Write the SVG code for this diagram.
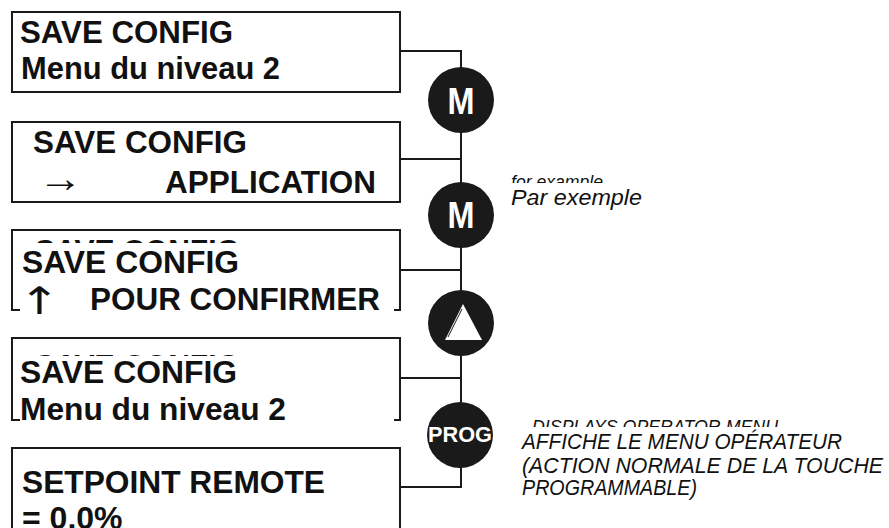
<svg xmlns="http://www.w3.org/2000/svg" width="889" height="528" viewBox="0 0 889 528">
  <style>
    .box { fill: none; stroke: #1a1a1a; stroke-width: 2; }
    .wire { fill: none; stroke: #1a1a1a; stroke-width: 2; }
    .mask { fill: #ffffff; stroke: none; }
    .lcd { font-family: "Liberation Sans", Arial, sans-serif; font-weight: bold; font-size: 32px; fill: #111; }
    .sym { font-family: "Liberation Sans", Arial, sans-serif; font-size: 32px; fill: #111; }
    .sym-up { font-family: "DejaVu Sans", sans-serif; font-size: 38px; fill: #111; }
    .key { fill: #1a1a1a; }
    .keytxt { font-family: "Liberation Sans", Arial, sans-serif; font-weight: bold; fill: #fff; text-anchor: middle; }
    .note { font-family: "Liberation Sans", Arial, sans-serif; font-style: italic; font-size: 22px; fill: #111; }
    .note-en { font-family: "Liberation Sans", Arial, sans-serif; font-style: italic; font-size: 18px; fill: #111; }
  </style>

  <!-- connectors: display boxes to key column -->
  <g id="connectors">
    <polyline class="wire" points="400,51 461,51 461,487 399,487"/>
    <line class="wire" x1="400" y1="159" x2="461" y2="159"/>
    <line class="wire" x1="400" y1="270" x2="461" y2="270"/>
    <line class="wire" x1="400" y1="378" x2="461" y2="378"/>
  </g>

  <!-- display 1 -->
  <g id="display1">
    <rect class="box" x="12" y="12" width="388" height="80"/>
    <text class="lcd" x="20" y="43" textLength="213" lengthAdjust="spacingAndGlyphs">SAVE CONFIG</text>
    <text class="lcd" x="21" y="79" textLength="259" lengthAdjust="spacingAndGlyphs">Menu du niveau 2</text>
  </g>

  <!-- display 2 -->
  <g id="display2">
    <rect class="box" x="12" y="122" width="388" height="80"/>
    <text class="lcd" x="33" y="153" textLength="214" lengthAdjust="spacingAndGlyphs">SAVE CONFIG</text>
    <text class="sym" transform="translate(38,192) scale(1.4,1.25)">→</text>
    <text class="lcd" x="165" y="193" textLength="211" lengthAdjust="spacingAndGlyphs">APPLICATION</text>
  </g>

  <!-- display 3 -->
  <g id="display3">
    <rect class="box" x="12" y="230" width="388" height="80"/>
    <text class="lcd" x="35" y="262" textLength="205" lengthAdjust="spacingAndGlyphs">SAVE CONFIG</text>
    <rect class="mask" x="20" y="243" width="374" height="72"/>
    <text class="lcd" x="22" y="273" textLength="217" lengthAdjust="spacingAndGlyphs">SAVE CONFIG</text>
    <text class="sym-up" transform="translate(19,314) scale(1.3,1)">↑</text>
    <text class="lcd" x="90" y="310" textLength="290" lengthAdjust="spacingAndGlyphs">POUR CONFIRMER</text>
  </g>

  <!-- display 4 -->
  <g id="display4">
    <rect class="box" x="12" y="338" width="388" height="82"/>
    <text class="lcd" x="35" y="377" textLength="205" lengthAdjust="spacingAndGlyphs">SAVE CONFIG</text>
    <rect class="mask" x="20" y="356" width="374" height="70"/>
    <text class="lcd" x="20" y="383" textLength="217" lengthAdjust="spacingAndGlyphs">SAVE CONFIG</text>
    <text class="lcd" x="20" y="420" textLength="266" lengthAdjust="spacingAndGlyphs">Menu du niveau 2</text>
  </g>

  <!-- display 5 -->
  <g id="display5">
    <rect class="box" x="12" y="448" width="388" height="90"/>
    <text class="lcd" x="22" y="493" textLength="303" lengthAdjust="spacingAndGlyphs">SETPOINT REMOTE</text>
    <text class="lcd" x="22" y="529">= 0.0%</text>
  </g>

  <!-- keys -->
  <g id="key-m1">
    <circle class="key" cx="461" cy="100" r="33"/>
    <text class="keytxt" x="461" y="114" font-size="37" textLength="27" lengthAdjust="spacingAndGlyphs">M</text>
  </g>
  <g id="key-m2">
    <circle class="key" cx="461" cy="215" r="33"/>
    <text class="keytxt" x="461" y="228" font-size="37" textLength="27" lengthAdjust="spacingAndGlyphs">M</text>
  </g>
  <g id="key-up">
    <circle class="key" cx="461" cy="323" r="33"/>
    <polygon points="463,304 445,340 482,340" fill="#fff"/>
    <line x1="448" y1="337" x2="462" y2="309" stroke="#1a1a1a" stroke-width="1"/>
  </g>
  <g id="key-prog">
    <circle class="key" cx="460" cy="435" r="33"/>
    <text class="keytxt" x="460" y="442" font-size="22" textLength="64" lengthAdjust="spacingAndGlyphs">PROG</text>
  </g>

  <!-- notes -->
  <g id="note-example">
    <text class="note-en" x="511" y="188" font-size="17" textLength="92" lengthAdjust="spacingAndGlyphs">for example</text>
    <rect class="mask" x="508" y="183" width="140" height="28"/>
    <text class="note" x="511" y="205" textLength="131" lengthAdjust="spacingAndGlyphs">Par exemple</text>
  </g>
  <g id="note-prog">
    <text class="note-en" x="532" y="433" textLength="246" lengthAdjust="spacingAndGlyphs">DISPLAYS OPERATOR MENU</text>
    <rect class="mask" x="518" y="427" width="371" height="75"/>
    <text class="note" x="522" y="449" textLength="320" lengthAdjust="spacingAndGlyphs">AFFICHE LE MENU OPÉRATEUR</text>
    <text class="note" x="522" y="473" textLength="361" lengthAdjust="spacingAndGlyphs">(ACTION NORMALE DE LA TOUCHE</text>
    <text class="note" x="522" y="495" textLength="175" lengthAdjust="spacingAndGlyphs">PROGRAMMABLE)</text>
  </g>
</svg>
